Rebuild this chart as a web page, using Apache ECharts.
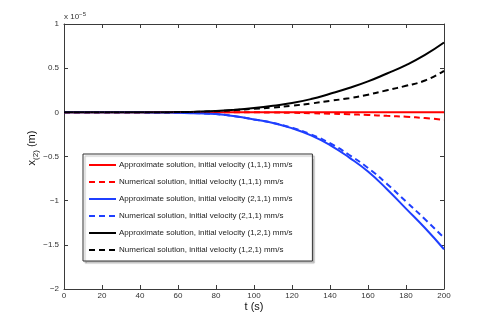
<!DOCTYPE html>
<html>
<head>
<meta charset="utf-8">
<script src="https://cdn.jsdelivr.net/npm/echarts@6/dist/echarts.min.js"></script>
<style>
  html, body { margin: 0; padding: 0; background: #fff; }
  #chart { width: 491px; height: 325px; }
</style>
</head>
<body>
<div id="chart"></div>
<script>
// time axis (s)
const tValues = [0, 10, 20, 30, 40, 50, 60, 70, 80, 90, 100, 110, 120, 130, 140, 150, 160, 170, 180, 190, 200]
const xTicks = [0, 20, 40, 60, 80, 100, 120, 140, 160, 180, 200]
const yTicks = [-2, -1.5, -1, -0.5, 0, 0.5, 1]
// x(2) values, units of 1e-5 m
const approx111 = [0, 0, 0, 0, 0, 0, 0, 0, 0, 0, 0, 0, 0, 0, 0, 0, 0, 0, 0, 0, 0]
const numer111 = [0, 0, 0, 0, 0, 0, 0, 0, 0, 0, 0, -0.002, -0.005, -0.01, -0.015, -0.022, -0.03, -0.04, -0.05, -0.065, -0.085]
const approx211 = [0, 0, 0, 0, 0, -0.002, -0.005, -0.01, -0.02, -0.045, -0.08, -0.12, -0.18, -0.26, -0.37, -0.51, -0.67, -0.87, -1.09, -1.31, -1.55]
const numer211 = [0, 0, 0, 0, 0, -0.002, -0.005, -0.01, -0.02, -0.045, -0.08, -0.12, -0.175, -0.25, -0.35, -0.48, -0.63, -0.81, -1.01, -1.21, -1.42]
const approx121 = [0, 0, 0, 0, 0, 0.001, 0.003, 0.007, 0.015, 0.03, 0.05, 0.075, 0.105, 0.15, 0.21, 0.275, 0.35, 0.44, 0.535, 0.65, 0.79]
const numer121 = [0, 0, 0, 0, 0, 0.001, 0.003, 0.006, 0.013, 0.025, 0.04, 0.055, 0.075, 0.1, 0.13, 0.16, 0.2, 0.25, 0.3, 0.36, 0.47]
const legendNames = [
  'Approximate solution, initial velocity (1,1,1) mm/s',
  'Numerical solution, initial velocity (1,1,1) mm/s',
  'Approximate solution, initial velocity (2,1,1) mm/s',
  'Numerical solution, initial velocity (2,1,1) mm/s',
  'Approximate solution, initial velocity (1,2,1) mm/s',
  'Numerical solution, initial velocity (1,2,1) mm/s'
]

const font = '"Liberation Sans", Arial, sans-serif'
const axisColor = '#3a3a3a'

const pairs = (vals) => tValues.map((t, i) => [t, vals[i]])

const mkSeries = (name, vals, color, dashed) => ({
  name: name,
  type: 'line',
  data: pairs(vals),
  symbol: 'none',
  smooth: true,
  lineStyle: { color: color, width: 2, type: dashed ? [6, 4] : 'solid' },
  itemStyle: { color: color },
  z: dashed ? 3 : 2
})

const commonX = {
  type: 'value', min: 0, max: 200, interval: 20,
  axisLine: { show: true, onZero: false, lineStyle: { color: axisColor, width: 1 } },
  axisTick: { show: true, inside: true, length: 4, lineStyle: { color: axisColor } },
  splitLine: { show: false }
}
const commonY = {
  type: 'value', min: -2, max: 1, interval: 0.5,
  axisLine: { show: true, onZero: false, lineStyle: { color: axisColor, width: 1 } },
  axisTick: { show: true, inside: true, length: 4, lineStyle: { color: axisColor } },
  splitLine: { show: false }
}

const chart = echarts.init(document.getElementById('chart'))
chart.setOption({
  animation: false,
  backgroundColor: '#fff',
  grid: { left: 64, right: 47, top: 24, bottom: 36, containLabel: false },
  graphic: [
    {
      // exponent label above the y axis
      type: 'text', left: 64, top: 11,
      style: {
        text: 'x 10{sup|\u22125}', fill: '#333', font: '8px ' + font,
        rich: { sup: { fontSize: 6, fill: '#333', padding: [0, 0, 5, 0], fontFamily: font } }
      }
    },
    {
      // y axis title, rotated
      type: 'text', x: 32, y: 148, rotation: Math.PI / 2,
      style: {
        text: 'x{sub|(2)} (m)', fill: '#111', font: '11px ' + font,
        align: 'center', verticalAlign: 'middle',
        rich: { sub: { fontSize: 8, fontFamily: font, fill: '#111', padding: [7, 0, 0, 0] } }
      }
    },
    {
      type: 'text', x: 254, y: 307,
      style: {
        text: 't (s)', fill: '#111', font: '11px ' + font,
        align: 'center', verticalAlign: 'middle'
      }
    }
  ],
  xAxis: [
    Object.assign({}, commonX, {
      position: 'bottom',
      axisLabel: { fontFamily: font, fontSize: 8, color: '#333', margin: 3 }
    }),
    Object.assign({}, commonX, { position: 'top', axisLabel: { show: false } })
  ],
  yAxis: [
    Object.assign({}, commonY, {
      position: 'left',
      axisLabel: {
        fontFamily: font, fontSize: 8, color: '#333', margin: 5,
        formatter: (v) => yTicks.indexOf(v) >= 0 ? String(v).replace('-', '\u2212') : ''
      }
    }),
    Object.assign({}, commonY, { position: 'right', axisLabel: { show: false } })
  ],
  legend: {
    orient: 'vertical',
    left: 83, top: 154,
    data: legendNames,
    itemWidth: 27, itemHeight: 8, itemGap: 9,
    padding: [7, 20, 7, 5],
    backgroundColor: '#fff',
    borderColor: '#333', borderWidth: 1, borderRadius: 0,
    shadowColor: 'rgba(0,0,0,0.25)', shadowOffsetX: 2, shadowOffsetY: 2, shadowBlur: 1,
    itemStyle: { opacity: 0 },
    textStyle: { fontFamily: font, fontSize: 8, color: '#222', padding: [0, 0, 0, -2] },
    selectedMode: false
  },
  series: [
    mkSeries(legendNames[0], approx111, '#ff0000', false),
    mkSeries(legendNames[1], numer111, '#ff0000', true),
    mkSeries(legendNames[2], approx211, '#1f3fff', false),
    mkSeries(legendNames[3], numer211, '#1f3fff', true),
    mkSeries(legendNames[4], approx121, '#000000', false),
    mkSeries(legendNames[5], numer121, '#000000', true)
  ]
})
window.addEventListener('resize', () => chart.resize())
</script>
</body>
</html>
